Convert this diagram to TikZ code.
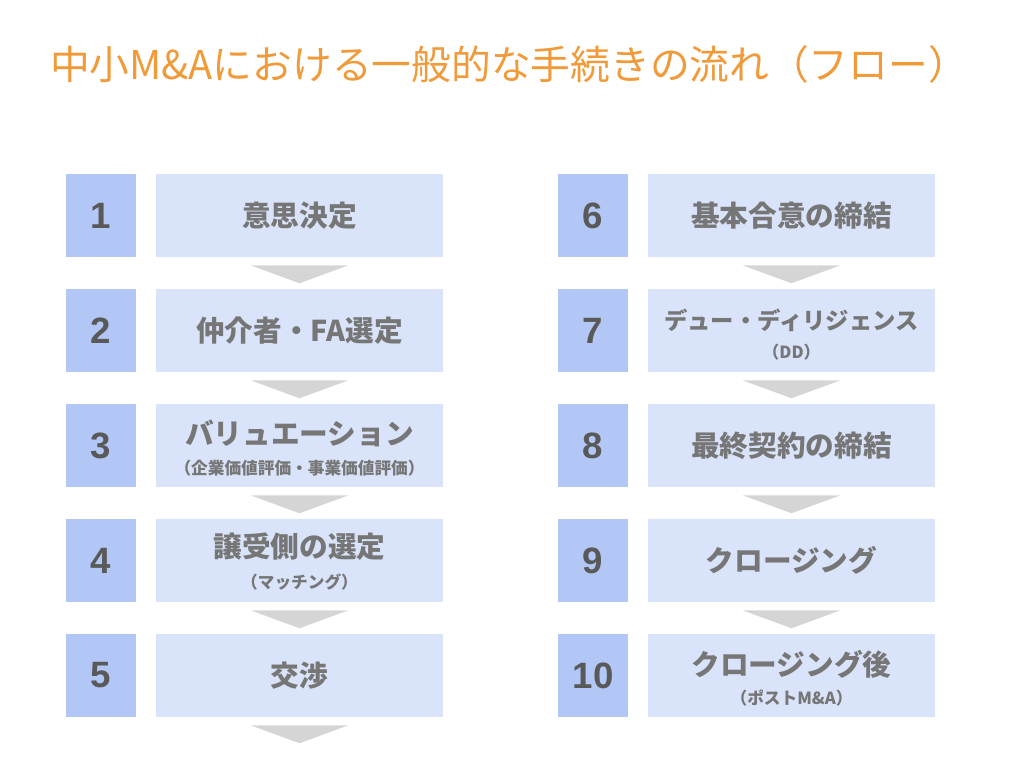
\documentclass[tikz,border=0pt]{standalone}
\usepackage{fontspec}
\setmainfont{Liberation Sans}
\newfontfamily\jp{Noto Sans CJK JP}
\usetikzlibrary{calc}
\definecolor{titlec}{HTML}{F09A3A}
\definecolor{numc}{HTML}{B3C7F6}
\definecolor{boxc}{HTML}{D9E3F9}
\definecolor{arrc}{HTML}{D5D5D5}
\definecolor{numtxt}{HTML}{595959}
\definecolor{lbltxt}{HTML}{767676}
\tikzset{
  numbox/.style={fill=numc, draw=none, inner sep=0pt, minimum width=52.5pt, minimum height=62.25pt,
    text=numtxt, font=\fontsize{27.5}{30}\selectfont\bfseries},
  wbox/.style={fill=boxc, draw=none, inner sep=0pt, minimum width=215.25pt, minimum height=62.25pt},
  lbl/.style={inner sep=0pt, text=lbltxt, font=\jp\bfseries\fontsize{21.5}{24}\selectfont},
  lblmid/.style={inner sep=0pt, text=lbltxt, font=\jp\bfseries\fontsize{17.5}{20}\selectfont},
  sub/.style={inner sep=0pt, text=lbltxt, font=\jp\bfseries\fontsize{12.5}{14}\selectfont},
  subsm/.style={inner sep=0pt, text=lbltxt, font=\jp\bfseries\fontsize{12.5}{14}\selectfont},
  flowarrow/.style={fill=arrc, draw=none}
}
\begin{document}
\begin{tikzpicture}[x=0.75pt,y=-0.75pt]
\useasboundingbox (0,0) rectangle (1024,768);
\node[inner sep=0pt, text=titlec, font=\jp\fontsize{29.8}{32}\selectfont] (title) at (509,64) {中小M\&Aにおける一般的な手続きの流れ（フロー）};

% left column
\node[numbox] (n1) at (101,215.5) {1};
\node[wbox] (b1) at (299.5,215.5) {};
\node[lbl] (t1) at (b1.center) {意思決定};

\node[numbox] (n2) at (101,330.5) {2};
\node[wbox] (b2) at (299.5,330.5) {};
\node[lbl] (t2) at (b2.center) {仲介者・FA選定};

\node[numbox] (n3) at (101,445.5) {3};
\node[wbox] (b3) at (299.5,445.5) {};
\node[lbl] (t3) at ($(b3.center)+(0,-12.5)$) {バリュエーション};
\node[sub] (s3) at ($(b3.center)+(0,22.5)$) {（企業価値評価・事業価値評価）};

\node[numbox] (n4) at (101,560.5) {4};
\node[wbox] (b4) at (299.5,560.5) {};
\node[lbl] (t4) at ($(b4.center)+(0,-13.5)$) {譲受側の選定};
\node[sub] (s4) at ($(b4.center)+(0,21.5)$) {（マッチング）};

\node[numbox] (n5) at (101,675.5) {5};
\node[wbox] (b5) at (299.5,675.5) {};
\node[lbl] (t5) at (b5.center) {交渉};

% right column
\node[numbox] (n6) at (593,215.5) {6};
\node[wbox] (b6) at (791.5,215.5) {};
\node[lbl] (t6) at (b6.center) {基本合意の締結};

\node[numbox] (n7) at (593,330.5) {7};
\node[wbox] (b7) at (791.5,330.5) {};
\node[lblmid] (t7) at ($(b7.center)+(0,-10.5)$) {デュー・ディリジェンス};
\node[subsm] (s7) at ($(b7.center)+(0,22)$) {（DD）};

\node[numbox] (n8) at (593,445.5) {8};
\node[wbox] (b8) at (791.5,445.5) {};
\node[lbl] (t8) at (b8.center) {最終契約の締結};

\node[numbox] (n9) at (593,560.5) {9};
\node[wbox] (b9) at (791.5,560.5) {};
\node[lbl] (t9) at (b9.center) {クロージング};

\node[numbox] (n10) at (593,675.5) {10};
\node[wbox] (b10) at (791.5,675.5) {};
\node[lbl] (t10) at ($(b10.center)+(0,-11.5)$) {クロージング後};
\node[sub] (s10) at ($(b10.center)+(0,22.5)$) {（ポストM\&A）};

% arrows
\foreach \b in {b1,b2,b3,b4,b5,b6,b7,b8,b9}{
  \fill[flowarrow] ($(\b.south)+(-49,8)$) -- ($(\b.south)+(49,8)$) -- ($(\b.south)+(0,26)$) -- cycle;
}
\end{tikzpicture}
\end{document}
